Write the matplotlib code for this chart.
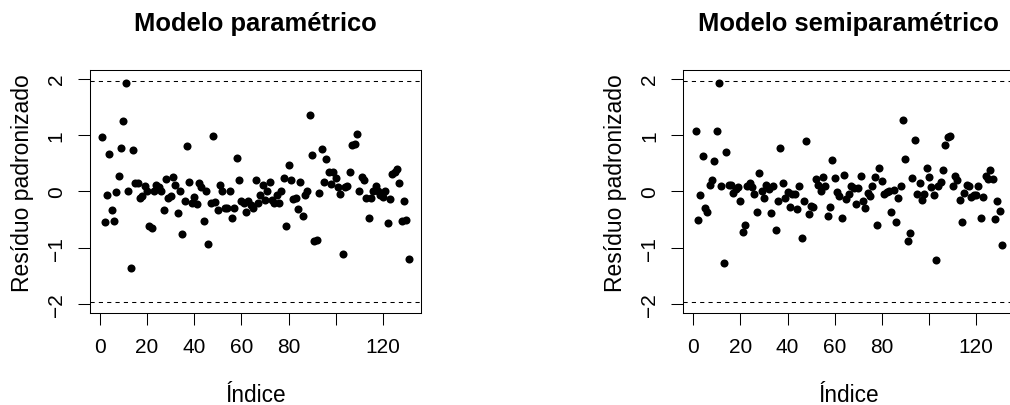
import matplotlib
matplotlib.use("Agg")
import matplotlib.pyplot as plt
import numpy as np

plt.rcParams['font.family'] = ['Liberation Sans', 'DejaVu Sans']

titles = ["Modelo paramétrico", "Modelo semiparamétrico"]
xlabel = "Índice"
ylabel = "Resíduo padronizado"
xticks = [0, 20, 40, 60, 80, 100, 120]
xticklabels = ["0", "20", "40", "60", "80", "", "120"]
yticks = [-2, -1, 0, 1, 2]
limit = 1.96

res_param = [
    0.97, -0.55, -0.07, 0.67, -0.33, -0.53, -0.01, 0.28, 0.77, 1.25,
    1.93, 0.00, -1.36, 0.73, 0.15, 0.15, -0.12, -0.08, 0.09, 0.00,
    -0.62, -0.65, 0.00, 0.12, 0.08, 0.00, -0.33, 0.22, -0.12, -0.08,
    0.26, 0.12, -0.38, 0.00, -0.75, -0.17, 0.81, 0.17, -0.20, -0.10,
    -0.22, 0.14, 0.07, -0.52, 0.00, -0.94, -0.20, 0.98, -0.19, -0.33,
    0.12, 0.00, -0.29, -0.29, 0.00, -0.48, -0.29, 0.60, 0.21, -0.18,
    -0.20, -0.37,
    -0.18, -0.25, -0.29, 0.21, -0.20, -0.06, 0.12, -0.16, 0.01, 0.17,
    -0.16, -0.20, -0.07, -0.20, 0.00, 0.24, -0.62, 0.47, 0.21, -0.13,
    -0.12, -0.32, 0.16, -0.44, -0.07, 0.00, 1.36, 0.65, -0.89, -0.86,
    -0.03, 0.75, 0.17, 0.57, 0.35, 0.13, 0.34, 0.23, 0.07, -0.04,
    -1.12, 0.07, 0.09, 0.34, 0.83, 0.84, 1.02, 0.00, 0.25, 0.20,
    -0.11, -0.48, -0.11, 0.01, 0.09, 0.00, -0.06, -0.10, 0.00, -0.57,
    -0.13, 0.31, 0.34, 0.39, 0.14, -0.52, -0.18, -0.50, -1.20,
]

res_semi = [
    1.08, -0.51, -0.07, 0.63, -0.29, -0.37, 0.12, 0.21, 0.54, 1.07,
    1.93, 0.09, -1.28, 0.69, 0.12, 0.12, -0.03, 0.05, 0.07, -0.17,
    -0.73, -0.60, 0.09, 0.15, 0.08, -0.04, -0.36, 0.33, 0.00, -0.12,
    0.11, 0.04, -0.38, 0.09, -0.69, -0.17, 0.77, 0.15, -0.12, -0.02,
    -0.28, -0.04, -0.04, -0.31, 0.09, -0.83, -0.17, 0.90, -0.41, -0.26,
    -0.28, 0.22, 0.12, 0.00, 0.25, 0.09, -0.44, -0.28, 0.56, 0.24,
    -0.01, -0.09, -0.48,
    0.29, -0.13, -0.04, 0.09, 0.06, -0.23, 0.06, 0.27, -0.18, -0.29,
    -0.03, -0.09, 0.09, 0.26, -0.59, 0.42, 0.18, -0.04, -0.01, 0.00,
    -0.37, 0.03, -0.54, -0.11, 0.10, 1.26, 0.58, -0.89, -0.74, 0.23,
    0.92, -0.04, 0.15, -0.15, -0.05, 0.42, 0.26, 0.07, -0.07, -1.22,
    0.10, 0.17, 0.38, 0.83, 0.96, 0.99, 0.10, 0.27, 0.20, -0.15,
    -0.55, -0.03, 0.12, 0.10, -0.10, -0.06, -0.06, 0.10, -0.48, -0.10,
    0.28, 0.22, 0.38, 0.22, -0.49, -0.17, -0.35, -0.95,
]

W, H = 1010, 406
fig = plt.figure(figsize=(W / 100, H / 100), dpi=100)

panel_left_px = [90, 683.3]
ax_w_px = 331
ax_top_px, ax_bot_px = 70.7, 314

for k, (res, title) in enumerate(zip([res_param, res_semi], titles)):
    lx = panel_left_px[k]
    ax = fig.add_axes([lx / W, (H - ax_bot_px) / H, ax_w_px / W, (ax_bot_px - ax_top_px) / H])
    n = len(res)
    idx = np.arange(1, n + 1)
    ax.plot(idx, res, 'o', color='black', markersize=5.8, markeredgewidth=0)
    ax.axhline(limit, color='black', lw=0.75, linestyle=(0, (4, 4)))
    ax.axhline(-limit, color='black', lw=0.75, linestyle=(0, (4, 4)))
    ext = 0.04 * (n - 1)
    ax.set_xlim(1 - ext, n + ext)
    ax.set_ylim(-2.16, 2.16)
    ax.set_xticks(xticks)
    ax.set_xticklabels(xticklabels)
    ax.set_yticks(yticks)
    ax.set_yticklabels([str(t).replace('-', '\u2212') for t in yticks], rotation=90, va='center')
    ax.tick_params(axis='both', direction='out', length=8.5, width=0.75, labelsize=15, color='black')
    ax.tick_params(axis='x', pad=9)
    ax.tick_params(axis='y', pad=9)
    for s in ax.spines.values():
        s.set_linewidth(0.75)
        s.set_color('black')
    cx = (lx + ax_w_px / 2) / W
    fig.text(cx, (H - 31) / H, title, ha='center', va='baseline', fontsize=18.4, fontweight='bold')
    fig.text(cx, (H - 401.7) / H, xlabel, ha='center', va='baseline', fontsize=16.3)
    fig.text((lx - 67.5) / W, (H - 183) / H, ylabel, rotation=90,
             ha='center', va='center', fontsize=16.5)

fig.savefig('out.png', dpi=100)
